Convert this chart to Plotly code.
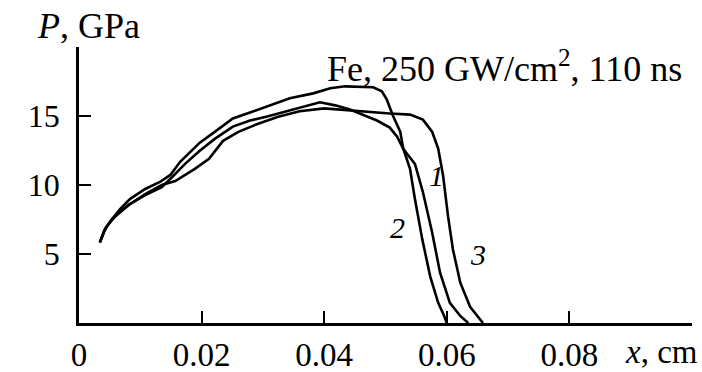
import plotly.graph_objects as go

# Curve 2 (highest peak)
x2 = [0.0034, 0.0041, 0.0051, 0.0067, 0.0083, 0.0108, 0.0132, 0.0149, 0.0165, 0.0181,
      0.0197, 0.0222, 0.0251, 0.0279, 0.0307, 0.0344, 0.0382, 0.0410, 0.0434, 0.0480,
      0.0494, 0.0502, 0.0512, 0.0524, 0.0529, 0.0540, 0.0548, 0.0560, 0.0573, 0.0586,
      0.0595, 0.0600]
p2 = [5.84, 6.64, 7.37, 8.25, 8.98, 9.71, 10.22, 10.73, 11.68, 12.41,
      13.07, 13.87, 14.82, 15.26, 15.69, 16.28, 16.64, 17.01, 17.15, 17.08,
      16.79, 16.20, 15.04, 13.87, 12.63, 11.17, 8.98, 6.06, 3.36, 1.46,
      0.58, 0.0]

# Curve 3 (longest plateau)
x3 = [0.0034, 0.0044, 0.0059, 0.0083, 0.0108, 0.0135, 0.0157, 0.0189, 0.0212, 0.0235,
      0.0260, 0.0290, 0.0325, 0.0360, 0.0400, 0.0442, 0.0475, 0.0507, 0.0540, 0.0561,
      0.0576, 0.0586, 0.0594, 0.0602, 0.0610, 0.0622, 0.0638, 0.0649, 0.0659]
p3 = [5.84, 6.93, 7.74, 8.61, 9.34, 10.00, 10.29, 11.17, 11.90, 13.20,
      13.85, 14.40, 14.95, 15.35, 15.55, 15.40, 15.26, 15.18, 15.10, 14.74,
      13.87, 12.63, 10.66, 7.74, 5.33, 2.92, 1.17, 0.51, 0.0]

# Curve 1
x1 = [0.0034, 0.0042, 0.0054, 0.0080, 0.0108, 0.0135, 0.0152, 0.0173, 0.0197, 0.0222,
      0.0251, 0.0279, 0.0307, 0.0344, 0.0369, 0.0393, 0.0418, 0.0442, 0.0486, 0.0507,
      0.0519, 0.0529, 0.0535, 0.0548, 0.0561, 0.0576, 0.0589, 0.0605, 0.0622, 0.0635]
p1 = [5.84, 6.79, 7.52, 8.54, 9.27, 9.85, 10.58, 11.53, 12.48, 13.36,
      14.23, 14.67, 14.96, 15.40, 15.69, 15.99, 15.77, 15.47, 14.67, 14.16,
      13.50, 12.63, 12.26, 11.53, 9.49, 6.57, 3.65, 1.46, 0.51, 0.0]

x_ticks = [0, 0.02, 0.04, 0.06, 0.08]
x_tick_labels = ["0", "0.02", "0.04", "0.06", "0.08"]
y_ticks = [5, 10, 15]
y_tick_labels = ["5", "10", "15"]

curve_labels = ["1", "2", "3"]
label_x = [0.0584, 0.0520, 0.0651]
label_y = [10.66, 6.93, 4.96]

FONT = "Liberation Serif, Times New Roman, DejaVu Serif, serif"

fig = go.Figure()
for xs, ys in [(x1, p1), (x2, p2), (x3, p3)]:
    fig.add_trace(go.Scatter(x=xs, y=ys, mode="lines",
                             line=dict(color="black", width=2.6),
                             showlegend=False, hoverinfo="skip"))

for t, lx, ly in zip(curve_labels, label_x, label_y):
    fig.add_annotation(x=lx, y=ly, text="<i>" + t + "</i>", showarrow=False,
                       font=dict(family=FONT, size=30, color="black"))

fig.add_annotation(x=0.401, y=0.928, xref="paper", yref="paper",
                   text="Fe, 250 GW/cm<sup>2</sup>, 110 ns", showarrow=False,
                   xanchor="left", yanchor="middle",
                   font=dict(family=FONT, size=36, color="black"))
fig.add_annotation(x=-0.072, y=1.076, xref="paper", yref="paper",
                   text="<i>P</i>, GPa", showarrow=False,
                   xanchor="left", yanchor="middle",
                   font=dict(family=FONT, size=36, color="black"))
fig.add_annotation(x=1.013, y=-0.104, xref="paper", yref="paper",
                   text="<i>x</i>, cm", showarrow=False,
                   xanchor="right", yanchor="middle",
                   font=dict(family=FONT, size=33, color="black"))

fig.update_xaxes(range=[0, 0.1], tickvals=x_ticks, ticktext=x_tick_labels,
                 showline=True, linecolor="black", linewidth=2.5,
                 ticks="inside", ticklen=12, tickwidth=2, tickcolor="black",
                 showgrid=False, zeroline=False, ticklabelstandoff=1,
                 automargin=False,
                 tickfont=dict(family=FONT, size=33, color="black"))
fig.update_yaxes(range=[0, 20], tickvals=y_ticks, ticktext=y_tick_labels,
                 showline=True, linecolor="black", linewidth=2.5,
                 ticks="inside", ticklen=12, tickwidth=2, tickcolor="black",
                 showgrid=False, zeroline=False, ticklabelstandoff=10,
                 automargin=False,
                 tickfont=dict(family=FONT, size=32, color="black"))

fig.update_layout(width=702, height=372,
                  margin=dict(l=79, r=10, t=47, b=49),
                  paper_bgcolor="white", plot_bgcolor="white")

# remove the page's default body margin so the figure fills the window exactly
fig.write_html("out.html",
               config={"displayModeBar": False},
               post_script="document.body.style.margin='0';"
                           "document.body.style.overflow='hidden';")
